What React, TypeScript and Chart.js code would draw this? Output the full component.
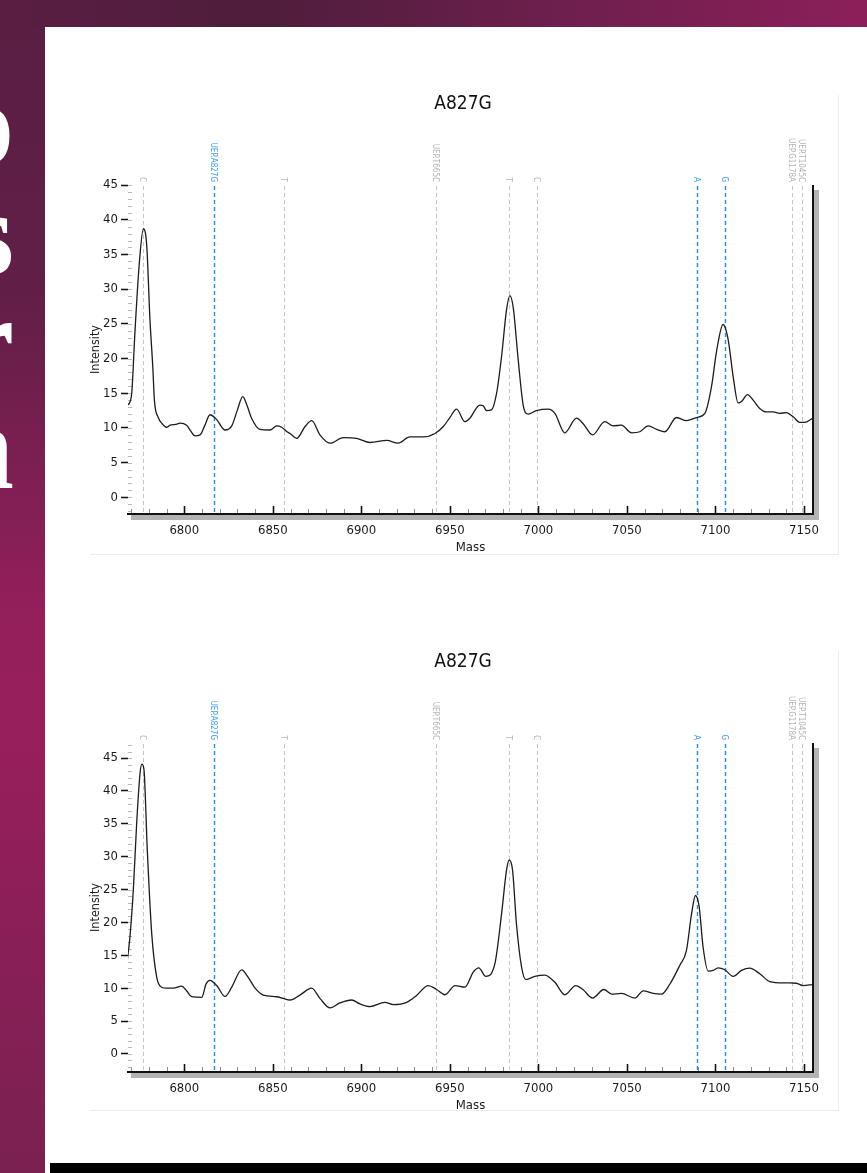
import React, { useEffect, useRef } from "react";
import { Chart, registerables } from "chart.js";

Chart.register(...registerables);

// ---------------- data ----------------
const chartTitle = "A827G";
const xAxisLabel = "Mass";
const yAxisLabel = "Intensity";
const xRange = [6768.2, 7155.1];
const topYRange = [-2.4, 45];
const bottomYRange = [-2.75, 47.3];

const topMasses = [
  6768.4, 6770.3, 6772.1, 6774.6, 6776.9, 6778.8, 6780.6, 6782.2, 6783.1, 6785.3,
  6787.5, 6790.0, 6792.0, 6795.0, 6797.6, 6801.3, 6803.5, 6806.0, 6808.9, 6811.5,
  6814.5, 6818.3, 6823.0, 6826.8, 6830.0, 6833.0, 6835.5, 6838.0, 6842.7, 6848.4,
  6852.2, 6855.0, 6857.8, 6859.7, 6863.5, 6868.2, 6872.0, 6876.6, 6882.3, 6889.8,
  6897.3, 6904.9, 6914.3, 6920.8, 6927.4, 6935.0, 6941.6, 6946.3, 6950.0, 6953.8,
  6958.5, 6961.3, 6966.9, 6968.8, 6970.7, 6973.5, 6976.4, 6979.2, 6982.0, 6983.9,
  6985.8, 6988.6, 6991.4, 6994.2, 6998.9, 7005.5, 7009.3, 7014.9, 7021.5, 7025.3,
  7030.6, 7037.5, 7042.2, 7046.9, 7052.6, 7057.3, 7062.0, 7066.7, 7071.4, 7078.0,
  7083.6, 7089.3, 7094.0, 7097.8, 7100.6, 7104.3, 7107.2, 7110.0, 7112.8, 7114.7,
  7118.1, 7121.3, 7125.0, 7128.8, 7132.6, 7136.3, 7140.0, 7143.9, 7147.6, 7150.4,
  7154.8,
];
const topIntensity = [
  13.3, 15.0, 23.7, 33.8, 38.7, 36.2, 25.6, 18.8, 14.0, 11.5,
  10.6, 10.1, 10.4, 10.5, 10.7, 10.4, 9.6, 8.85, 9.0, 10.3,
  11.9, 11.2, 9.7, 10.3, 12.6, 14.5, 13.2, 11.4, 9.8, 9.7,
  10.3, 10.1, 9.5, 9.2, 8.5, 10.2, 11.05, 9.0, 7.8, 8.6,
  8.5, 7.9, 8.2, 7.8, 8.7, 8.7, 9.2, 10.2, 11.5, 12.7,
  10.9, 11.4, 13.3, 13.2, 12.5, 12.6, 15.0, 20.3, 27.0, 29.05,
  27.3, 19.8, 13.3, 12.0, 12.5, 12.7, 12.1, 9.3, 11.4, 10.6,
  9.0, 10.9, 10.3, 10.4, 9.3, 9.45, 10.3, 9.8, 9.45, 11.5,
  11.05, 11.5, 12.1, 16.0, 21.0, 24.9, 22.7, 17.4, 13.6, 13.8,
  14.8, 14.0, 12.8, 12.3, 12.3, 12.1, 12.2, 11.6, 10.8, 10.8,
  11.4,
];

const bottomMasses = [
  6767.8, 6769.3, 6771.2, 6773.1, 6775.0, 6776.0, 6777.2, 6779.1, 6781.6, 6784.4,
  6787.2, 6790.0, 6793.8, 6798.5, 6801.3, 6804.2, 6809.8, 6812.3, 6814.5, 6818.3,
  6823.0, 6826.8, 6832.4, 6836.1, 6840.0, 6844.6, 6852.2, 6855.9, 6859.7, 6865.3,
  6871.9, 6876.6, 6882.3, 6887.9, 6894.5, 6899.2, 6904.9, 6913.3, 6918.0, 6925.6,
  6931.2, 6937.8, 6942.5, 6947.2, 6952.9, 6958.5, 6963.2, 6966.3, 6970.3, 6975.4,
  6979.2, 6982.0, 6983.5, 6985.4, 6987.6, 6990.5, 6992.9, 6998.0, 7003.6, 7009.3,
  7014.9, 7021.1, 7025.3, 7030.6, 7037.0, 7041.3, 7046.9, 7054.5, 7059.2, 7064.8,
  7069.5, 7074.2, 7079.9, 7083.6, 7086.5, 7088.7, 7090.8, 7093.0, 7095.9, 7098.7,
  7101.5, 7105.3, 7110.0, 7114.7, 7119.4, 7125.0, 7130.7, 7138.2, 7142.0, 7145.7,
  7149.5, 7154.8,
];
const bottomIntensity = [
  14.2, 17.8, 24.9, 35.1, 42.7, 44.1, 43.3, 31.0, 18.3, 11.7,
  10.15, 10.0, 10.0, 10.3, 9.6, 8.7, 8.6, 10.65, 11.2, 10.4,
  8.75, 10.15, 12.8, 11.65, 10.0, 8.95, 8.7, 8.45, 8.2, 8.95,
  10.0, 8.45, 7.0, 7.75, 8.2, 7.6, 7.2, 7.85, 7.5, 7.85,
  8.9, 10.4, 9.8, 9.0, 10.4, 10.15, 12.45, 13.1, 11.8, 13.7,
  21.3, 27.95, 29.5, 27.95, 19.8, 13.2, 11.3, 11.8, 12.0, 10.9,
  9.0, 10.4, 9.75, 8.5, 9.8, 9.1, 9.2, 8.5, 9.6, 9.2,
  9.1, 10.6, 13.5, 15.7, 21.3, 24.1, 22.4, 16.3, 12.6, 12.7,
  13.1, 12.8, 11.8, 12.7, 13.05, 12.2, 11.0, 10.8, 10.8, 10.75,
  10.4, 10.55,
];

const markerMasses = [6776.4, 6817.0, 6856.2, 6942.0, 6983.2, 6999.4, 7089.3, 7105.3, 7143.0, 7148.9];
const markerLabels = ["C", "UEP.A827G", "T", "UEP.T665C", "T", "C", "A", "G", "UEP.G1178A", "UEP.T1045C"];
const markerKinds = ["gray", "blue", "gray", "gray", "gray", "gray", "blue", "blue", "gray", "gray"];

const sideLetters = ["o", "s", "r", "n"];

// ---------------- styling ----------------
const FONT = "'DejaVu Sans Condensed', 'Liberation Sans', sans-serif";
const CANVAS_W = 763;
const CANVAS_H = 462;
const TITLE_CENTER_X = 388; // canvas px

const markerColors: Record<string, { line: string; text: string; width: number }> = {
  gray: { line: "#c4c4c4", text: "#b4b4b4", width: 1 },
  blue: { line: "#1a8cff", text: "#3a9cf5", width: 1.4 },
};

const decorPlugin = {
  id: "decor",
  beforeDatasetsDraw(chart: any) {
    const { ctx, chartArea, scales } = chart;
    const { left, top, bottom } = chartArea;
    const x = scales.x;
    const y = scales.y;
    ctx.save();
    // chart title
    ctx.font = `19px ${FONT}`;
    ctx.fillStyle = "#111";
    ctx.textAlign = "center";
    ctx.textBaseline = "middle";
    ctx.fillText(chartTitle, TITLE_CENTER_X, 11.5);
    // minor y ticks inside plot
    ctx.strokeStyle = "#b8b8b8";
    ctx.lineWidth = 1;
    for (let v = Math.ceil(y.min); v <= Math.floor(y.max); v++) {
      const py = Math.round(y.getPixelForValue(v)) + 0.5;
      ctx.beginPath();
      ctx.moveTo(left, py);
      ctx.lineTo(left + 4, py);
      ctx.stroke();
    }
    // marker lines + labels
    markerMasses.forEach((m, i) => {
      const c = markerColors[markerKinds[i]];
      const px = Math.round(x.getPixelForValue(m)) + 0.5;
      ctx.save();
      ctx.setLineDash([4, 3]);
      ctx.strokeStyle = c.line;
      ctx.lineWidth = c.width;
      ctx.beginPath();
      ctx.moveTo(px, top + 1);
      ctx.lineTo(px, bottom);
      ctx.stroke();
      ctx.restore();
      ctx.save();
      ctx.translate(px - 1.5, top - 3);
      ctx.rotate(Math.PI / 2);
      ctx.textAlign = "right";
      ctx.textBaseline = "middle";
      ctx.font = `8px ${FONT}`;
      ctx.fillStyle = c.text;
      ctx.fillText(markerLabels[i], 0, 0);
      ctx.restore();
    });
    ctx.restore();
  },
  afterDatasetsDraw(chart: any) {
    const { ctx, chartArea, scales } = chart;
    const { left, right, top, bottom } = chartArea;
    const x = scales.x;
    ctx.save();
    // shadows
    ctx.fillStyle = "#b3b3b3";
    ctx.fillRect(left + 3, bottom + 1, right - left + 3, 5);
    ctx.fillRect(right + 1, top + 5, 5, bottom - top + 1);
    // x ticks pointing up
    const start = Math.ceil(x.min / 10) * 10;
    for (let v = start; v <= x.max; v += 10) {
      const px = Math.round(x.getPixelForValue(v)) + 0.5;
      const major = v % 50 === 0;
      ctx.strokeStyle = major ? "#111" : "#8c8c8c";
      ctx.lineWidth = major ? 1.6 : 1;
      ctx.beginPath();
      ctx.moveTo(px, bottom);
      ctx.lineTo(px, bottom - (major ? 8 : 5));
      ctx.stroke();
    }
    // axis line and right border
    ctx.strokeStyle = "#111";
    ctx.lineWidth = 2;
    ctx.beginPath();
    ctx.moveTo(left - 1, bottom);
    ctx.lineTo(right + 1, bottom);
    ctx.moveTo(right, top);
    ctx.lineTo(right, bottom);
    ctx.stroke();
    ctx.restore();
  },
};

function SpectrumChart({
  masses,
  intensity,
  yRange,
  top,
}: {
  masses: number[];
  intensity: number[];
  yRange: number[];
  top: number;
}) {
  const ref = useRef<HTMLCanvasElement>(null);
  useEffect(() => {
    const chart = new Chart(ref.current as HTMLCanvasElement, {
      type: "line",
      data: {
        datasets: [
          {
            data: masses.map((m, i) => ({ x: m, y: intensity[i] })),
            borderColor: "#1c1c1c",
            borderWidth: 1.3,
            pointRadius: 0,
            fill: false,
            cubicInterpolationMode: "monotone",
          },
        ],
      },
      options: {
        responsive: false,
        animation: false,
        devicePixelRatio: 1,
        layout: { padding: { left: 0, right: 25, top: 92, bottom: 0 } },
        plugins: {
          legend: { display: false },
          tooltip: { enabled: false },
          title: { display: false },
        },
        scales: {
          x: {
            type: "linear",
            min: xRange[0],
            max: xRange[1],
            afterFit: (s: any) => {
              s.height = 41;
            },
            grid: { display: false, drawTicks: false },
            border: { display: false },
            ticks: {
              stepSize: 50,
              includeBounds: false,
              autoSkip: false,
              maxRotation: 0,
              padding: 9,
              color: "#1a1a1a",
              font: { family: FONT, size: 13 },
              callback: (v: any) => String(v),
            },
            title: {
              display: true,
              text: xAxisLabel,
              color: "#1a1a1a",
              font: { family: FONT, size: 13 },
              padding: { top: 0, bottom: 0 },
            },
          },
          y: {
            type: "linear",
            min: yRange[0],
            max: yRange[1],
            afterFit: (s: any) => {
              s.width = 53;
            },
            grid: {
              display: true,
              drawOnChartArea: false,
              drawTicks: true,
              tickLength: 7,
              tickColor: "#111",
              tickWidth: 1.5,
            },
            border: { display: false },
            ticks: {
              stepSize: 5,
              includeBounds: false,
              padding: 3,
              color: "#1a1a1a",
              font: { family: FONT, size: 13 },
              callback: (v: any) => String(v),
            },
            title: {
              display: true,
              text: yAxisLabel,
              color: "#1a1a1a",
              font: { family: FONT, size: 12.5 },
              padding: { top: 13.5, bottom: 0 },
            },
          },
        },
      },
      plugins: [decorPlugin],
    } as any);
    return () => chart.destroy();
  }, []);
  return (
    <canvas
      ref={ref}
      width={CANVAS_W}
      height={CANVAS_H}
      style={{ position: "absolute", left: 75, top, width: CANVAS_W, height: CANVAS_H }}
    />
  );
}

export default function App() {
  const letterTops = [64, 174, 280, 388];
  return (
    <div
      style={{
        position: "absolute",
        left: 0,
        top: 0,
        width: 867,
        height: 1173,
        overflow: "hidden",
        background:
          "linear-gradient(to bottom, #5a1e43 0%, #611f47 25%, #931f5b 52%, #981f5c 62%, #8a1f57 80%, #7a2151 100%)",
      }}
    >
      <div
        style={{
          position: "absolute",
          left: 0,
          top: 0,
          width: 867,
          height: 27,
          background: "linear-gradient(to right, #5a1e43 0%, #4e1e3c 30%, #6e1f4d 65%, #8c1f5a 100%)",
        }}
      />
      {sideLetters.map((t, i) => (
        <div
          key={i}
          style={{
            position: "absolute",
            left: -200,
            top: letterTops[i],
            width: 214,
            textAlign: "right",
            fontFamily: "'Liberation Serif', serif",
            fontWeight: "bold",
            fontSize: 120,
            lineHeight: "120px",
            color: "#ffffff",
          }}
        >
          {t}
        </div>
      ))}
      <div
        style={{
          position: "absolute",
          left: 45,
          top: 27,
          width: 822,
          height: 1146,
          background: "#ffffff",
        }}
      />
      <div
        style={{
          position: "absolute",
          left: 50,
          top: 1163,
          width: 817,
          height: 10,
          background: "#000000",
        }}
      />
      <div
        style={{
          position: "absolute",
          left: 90,
          top: 95,
          width: 748,
          height: 459,
          borderRight: "1px solid #ececec",
          borderBottom: "1px solid #ececec",
        }}
      />
      <div
        style={{
          position: "absolute",
          left: 90,
          top: 651,
          width: 748,
          height: 459,
          borderRight: "1px solid #ececec",
          borderBottom: "1px solid #ececec",
        }}
      />
      <SpectrumChart masses={topMasses} intensity={topIntensity} yRange={topYRange} top={93} />
      <SpectrumChart masses={bottomMasses} intensity={bottomIntensity} yRange={bottomYRange} top={651} />
    </div>
  );
}
